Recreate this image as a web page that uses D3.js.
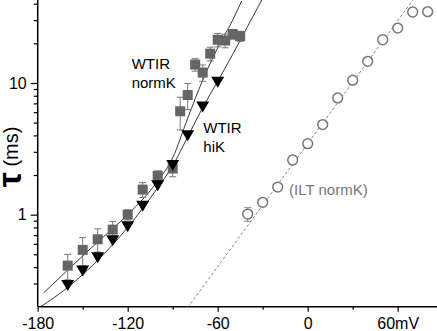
<!DOCTYPE html>
<html><head><meta charset="utf-8">
<script src="https://cdn.jsdelivr.net/npm/d3@7"></script>
<style>html,body{margin:0;padding:0;background:#fff;} svg{display:block;font-family:"Liberation Sans",Arial,sans-serif;}</style>
</head><body><svg id="c" width="437" height="331"></svg>
<script>
// WTIR normK (grey squares)
const normKV   = [-160,-150,-140,-130,-120,-110,-100,-90,-85,-80,-75,-70,-65,-60,-55,-50,-45];
const normKTau = [0.41,0.54,0.65,0.77,1.0,1.55,1.97,2.24,6.1,8.1,13.8,12.0,16.7,21.3,21.0,23.5,22.7];
const normKErr = [0.09,0.13,0.13,0.12,0.09,0.2,0.18,0.3,1.7,1.8,1.5,1.7,2.0,2.5,2.5,2.0,2.0];
// WTIR hiK (black triangles)
const hiKV   = [-160,-150,-140,-130,-120,-110,-100,-90,-80,-70,-60];
const hiKTau = [0.295,0.38,0.48,0.646,0.825,1.18,1.69,2.4,4.05,6.7,10.3];
// ILT normK (open circles)
const iltV   = [-40,-30,-20,-10,0,10,20,30,40,50,60,70,80];
const iltTau = [1.01,1.24,1.62,2.6,3.46,4.83,7.7,10.5,14.6,21.3,26.1,34.6,34.8];
const iltErr = [0.12,0.06,0.06,0.2,0.12,0.15,0.25,0.35,0.6,0.8,1.0,0,0];
// fit curves
const normKFitV   = [-176,-160,-140,-120,-100,-90,-80,-70,-60,-50,-44];
const normKFitTau = [0.255,0.38,0.62,1.0,1.8,2.7,5.4,10.5,18.5,30,42];
const hiKFitV   = [-178,-160,-140,-120,-100,-90,-80,-70,-60,-50,-40,-30];
const hiKFitTau = [0.2,0.28,0.45,0.8,1.6,2.35,3.9,6.5,10.3,16.5,27,44];
const iltFitV   = [-80,70];
const iltFitTau = [0.197,42.5];
// ticks
const xMajor = [-180,-120,-60,0,60];
const xLabels = ["-180","-120","-60","0","60mV"];
const xMinor = [-150,-90,-30,30];
const yMajor = [1,10];
const yMinor = [0.3,0.4,0.5,0.6,0.7,0.8,0.9,2,3,4,5,6,7,8,9,20,30,40];

const W=437,H=331, X0=37.7, Y0=306.7;
const x=d3.scaleLinear().domain([-180,86.2]).range([X0,W]);
const y=d3.scaleLog().domain([0.2,40]).range([Y0,3.7]);
const svg=d3.select("#c");
svg.append("defs").append("clipPath").attr("id","clip").append("rect")
  .attr("x",X0).attr("y",0).attr("width",W-X0).attr("height",Y0);

// axes
const gx=svg.append("g").attr("transform",`translate(0,${Y0})`)
  .call(d3.axisBottom(x).tickValues(xMajor).tickSize(5).tickPadding(6).tickFormat((d,i)=>xLabels[i]));
const gxm=svg.append("g").attr("transform",`translate(0,${Y0})`)
  .call(d3.axisBottom(x).tickValues(xMinor).tickSize(3).tickFormat(""));
const gy=svg.append("g").attr("transform",`translate(${X0},0)`)
  .call(d3.axisLeft(y).tickValues(yMajor).tickSize(7).tickPadding(4).tickFormat(d=>String(d)));
const gym=svg.append("g").attr("transform",`translate(${X0},0)`)
  .call(d3.axisLeft(y).tickValues(yMinor).tickSize(4).tickFormat(""));
[gx,gxm,gy,gym].forEach(g=>{g.select(".domain").remove();
  g.selectAll("line").attr("stroke","#000").attr("stroke-width",1.2);
  g.selectAll("text").attr("font-size",16).attr("fill","#000").attr("font-family","Liberation Sans, Arial, sans-serif");});
svg.append("line").attr("x1",X0).attr("x2",W).attr("y1",Y0).attr("y2",Y0).attr("stroke","#000").attr("stroke-width",1.5);
svg.append("line").attr("x1",X0).attr("x2",X0).attr("y1",0).attr("y2",Y0).attr("stroke","#000").attr("stroke-width",1.5);

// y title
const yt=svg.append("text").attr("transform","translate(21,157) rotate(-90)").attr("text-anchor","middle");
yt.append("tspan").text("τ").attr("font-size",34).attr("font-weight","bold");
yt.append("tspan").text(" (ms)").attr("font-size",20).attr("dy",-3);

const plot=svg.append("g").attr("clip-path","url(#clip)");
const zip=(a,b)=>a.map((v,i)=>[v,b[i]]);
const line=d3.line().x(d=>x(d[0])).y(d=>y(d[1]));
const curve=d3.line().x(d=>x(d[0])).y(d=>y(d[1])).curve(d3.curveMonotoneX);

plot.append("path").attr("d",curve(zip(normKFitV,normKFitTau))).attr("fill","none").attr("stroke","#222").attr("stroke-width",0.9);
plot.append("path").attr("d",curve(zip(hiKFitV,hiKFitTau))).attr("fill","none").attr("stroke","#222").attr("stroke-width",0.9);
plot.append("path").attr("d",line(zip(iltFitV,iltFitTau))).attr("fill","none").attr("stroke","#888").attr("stroke-width",1).attr("stroke-dasharray","3,2");

// error bars
function errBars(V,T,E,color){
  V.forEach((v,i)=>{ if(!E[i]) return;
    const cx=x(v), y1=y(T[i]+E[i]), y2=y(Math.max(T[i]-E[i],0.01));
    plot.append("line").attr("x1",cx).attr("x2",cx).attr("y1",y1).attr("y2",y2).attr("stroke",color).attr("stroke-width",1);
    [y1,y2].forEach(yy=>plot.append("line").attr("x1",cx-3.5).attr("x2",cx+3.5).attr("y1",yy).attr("y2",yy).attr("stroke",color).attr("stroke-width",1));
  });
}
errBars(normKV,normKTau,normKErr,"#777");
errBars(iltV,iltTau,iltErr,"#888");

// squares
plot.selectAll(".sq").data(zip(normKV,normKTau)).enter().append("rect")
  .attr("x",d=>x(d[0])-5).attr("y",d=>y(d[1])-5).attr("width",10).attr("height",10).attr("fill","#656565");
// triangles
plot.selectAll(".tri").data(zip(hiKV,hiKTau)).enter().append("path")
  .attr("d","M-6.5,-4.5L6.5,-4.5L0,6.5Z").attr("transform",d=>`translate(${x(d[0])},${y(d[1])})`).attr("fill","#000");
// circles
plot.selectAll(".ci").data(zip(iltV,iltTau)).enter().append("circle")
  .attr("cx",d=>x(d[0])).attr("cy",d=>y(d[1])).attr("r",4.9).attr("fill","#fff").attr("stroke","#777").attr("stroke-width",1.5);

// labels
const lab=(t,xx,yy,c)=>svg.append("text").attr("x",xx).attr("y",yy).attr("font-size",15).attr("fill",c).text(t);
lab("WTIR",131.7,68.5,"#000"); lab("normK",131.7,87.5,"#000");
lab("WTIR",203.3,133.3,"#000"); lab("hiK",203.3,152,"#000");
lab("(ILT normK)",289,194.5,"#777");
</script></body></html>
